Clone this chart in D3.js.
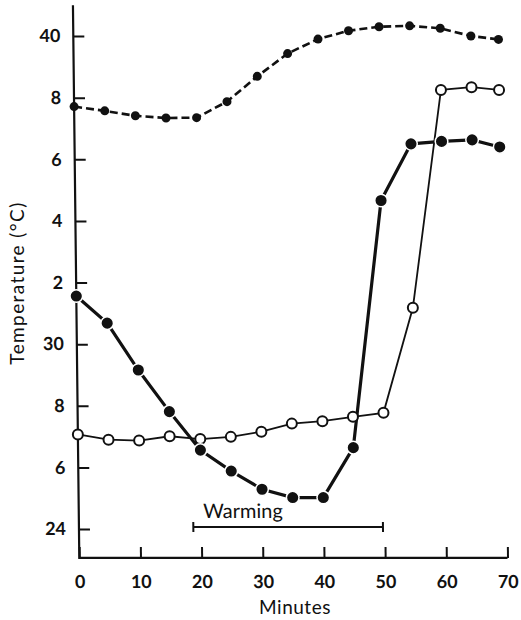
<!DOCTYPE html>
<html lang="en">
<head>
    <meta charset="UTF-8">
    <title>Temperature</title>
    <script src="https://cdn.jsdelivr.net/npm/d3@7/dist/d3.min.js"></script>
    <style>
        body { margin: 0; background: #fff; }
        text { font-family: Lato, "Open Sans", sans-serif; fill: #111; }
    </style>
</head>
<body>
    <div id="chart"></div>

    <script>
        // data (minutes, degrees C)
        const minutes = [0, 5, 10, 15, 20, 25, 30, 35, 40, 45, 50, 55, 60, 65, 69.5];
        const dashedTemp = [37.71, 37.57, 37.41, 37.34, 37.35, 37.87, 38.69, 39.43, 39.90, 40.17, 40.30, 40.33, 40.25, 40.00, 39.89];
        const filledTemp = [31.56, 30.68, 29.16, 27.81, 26.56, 25.88, 25.29, 25.02, 25.02, 26.64, 34.66, 36.50, 36.58, 36.63, 36.40];
        const openTemp = [27.07, 26.90, 26.87, 27.01, 26.92, 26.99, 27.16, 27.42, 27.50, 27.64, 27.77, 31.18, 38.25, 38.34, 38.25];

        const xTicks = [0, 10, 20, 30, 40, 50, 60, 70];
        const yTicks = [24, 26, 28, 30, 32, 34, 36, 38, 40];
        const yTickLabels = ["24", "6", "8", "30", "2", "4", "6", "8", "40"];
        const warming = [18.7, 49.7];

        const width = 521, height = 620;

        const x = d3.scaleLinear().domain([0, 70]).range([79.3, 507.5]);
        const y = d3.scaleLinear().domain([24, 40]).range([529, 36]);
        const yBottom = y(23.06), yTop = y(41);

        // the printed figure leans a little: y axis is tilted
        const k = 0.0115;
        const skewDeg = Math.atan(k) * 180 / Math.PI;

        const svg = d3.select("#chart")
            .append("svg")
            .attr("width", width)
            .attr("height", height);

        const g = svg.append("g")
            .attr("transform", `translate(${-k * yBottom},0) skewX(${skewDeg})`);

        // axes
        const yAxis = d3.axisLeft(y)
            .tickValues(yTicks)
            .tickFormat((d, i) => yTickLabels[i])
            .tickSizeInner(-11)
            .tickSizeOuter(0)
            .tickPadding(13);

        const xAxis = d3.axisBottom(x)
            .tickValues(xTicks)
            .tickSizeInner(-11)
            .tickSizeOuter(0)
            .tickPadding(17);

        g.append("g")
            .attr("transform", `translate(${x(0)},0)`)
            .call(yAxis)
            .call(a => a.select(".domain").remove());

        g.append("g")
            .attr("transform", `translate(0,${yBottom})`)
            .call(xAxis)
            .call(a => a.select(".domain").remove());

        g.selectAll(".tick line").attr("stroke", "#111").attr("stroke-width", 2);
        g.selectAll(".tick text")
            .attr("font-size", 18)
            .attr("font-weight", "bold")
            .style("font-family", "Lato, 'Open Sans', sans-serif")
            .attr("fill", "#111");

        g.append("path")
            .attr("d", `M${x(0)},${yTop}V${yBottom}H${x(70)}`)
            .attr("fill", "none")
            .attr("stroke", "#111")
            .attr("stroke-width", 2.2);

        // warming bracket
        const by = y(24) - 2;
        g.append("path")
            .attr("d", `M${x(warming[0])},${by - 5}V${by + 5}M${x(warming[0])},${by}H${x(warming[1])}M${x(warming[1])},${by - 5}V${by + 5}`)
            .attr("fill", "none")
            .attr("stroke", "#111")
            .attr("stroke-width", 2);

        g.append("text")
            .attr("x", x(warming[0]) + 10)
            .attr("y", by - 9)
            .attr("font-size", 20)
            .text("Warming");

        const pts = temps => minutes.map((m, i) => [m, temps[i]]);
        const line = d3.line().x(d => x(d[0])).y(d => y(d[1]));

        // top dashed series
        g.append("path")
            .datum(pts(dashedTemp))
            .attr("d", line)
            .attr("fill", "none")
            .attr("stroke", "#111")
            .attr("stroke-width", 2.6)
            .attr("stroke-dasharray", "8,4");

        g.selectAll(".dash-dot")
            .data(pts(dashedTemp))
            .enter()
            .append("circle")
            .attr("class", "dash-dot")
            .attr("cx", d => x(d[0]))
            .attr("cy", d => y(d[1]))
            .attr("r", 4.5)
            .attr("fill", "#111");

        // open circles, thin line
        g.append("path")
            .datum(pts(openTemp))
            .attr("d", line)
            .attr("fill", "none")
            .attr("stroke", "#111")
            .attr("stroke-width", 1.8);

        // filled circles, heavy line
        g.append("path")
            .datum(pts(filledTemp))
            .attr("d", line)
            .attr("fill", "none")
            .attr("stroke", "#111")
            .attr("stroke-width", 3.2);

        g.selectAll(".open-dot")
            .data(pts(openTemp))
            .enter()
            .append("circle")
            .attr("class", "open-dot")
            .attr("cx", d => x(d[0]))
            .attr("cy", d => y(d[1]))
            .attr("r", 5)
            .attr("fill", "#fff")
            .attr("stroke", "#111")
            .attr("stroke-width", 2);

        g.selectAll(".fill-dot")
            .data(pts(filledTemp))
            .enter()
            .append("circle")
            .attr("class", "fill-dot")
            .attr("cx", d => x(d[0]))
            .attr("cy", d => y(d[1]))
            .attr("r", 6.3)
            .attr("fill", "#111")
            .attr("stroke", "#fff")
            .attr("stroke-width", 1.5);

        // axis titles
        svg.append("text")
            .attr("transform", `translate(24,283) rotate(-90)`)
            .attr("text-anchor", "middle")
            .attr("font-size", 19)
            .attr("letter-spacing", 1.4)
            .text("Temperature (°C)");

        svg.append("text")
            .attr("x", 295)
            .attr("y", 614)
            .attr("text-anchor", "middle")
            .attr("font-size", 19)
            .attr("letter-spacing", 0.5)
            .text("Minutes");
    </script>
</body>
</html>
